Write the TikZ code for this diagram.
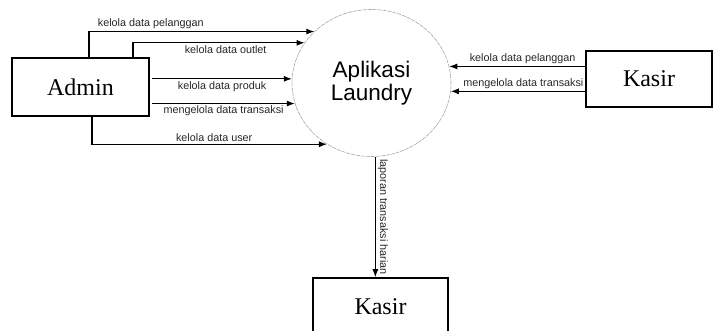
\documentclass[tikz,border=0pt]{standalone}
\usepackage{fontspec}
\setmainfont{Liberation Serif}
\setsansfont{Liberation Sans}
\usetikzlibrary{arrows.meta, shapes.geometric}

\begin{document}
\begin{tikzpicture}[x=1pt, y=-1pt,
		entity/.style={draw, line width=1.6pt, minimum width=137pt, minimum height=58pt, inner sep=0pt, font=\fontsize{24}{28}\selectfont},
		process/.style={ellipse, draw=gray!70, line width=0.6pt, dash pattern=on 4pt off 1pt, minimum width=159pt, minimum height=147pt, inner sep=0pt, align=center, font=\sffamily\fontsize{22.5}{23}\selectfont},
		flow/.style={line width=1.1pt, -{Latex[length=8pt, width=6pt]}},
		lbl/.style={font=\sffamily\fontsize{10.8}{12}\selectfont, inner sep=2pt, text=black!85}]

		\clip (0,0) rectangle (713,331);

		% entities and process
		\node[entity] (admin) at (80.5,87) {Admin};
		\node[entity, minimum width=126pt, minimum height=56pt] (kasirA) at (649,79) {Kasir};
		\node[entity, minimum width=135pt] (kasirB) at (380.5,307) {Kasir};
		\node[process] (app) at (371.5,83) {Aplikasi\\Laundry};

		% admin flows
		\draw[flow] ([xshift=8.5pt]admin.north) |- (app.138) node[lbl, above, pos=0.637] {kelola data pelanggan};
		\draw[flow] ([xshift=52.5pt]admin.north) |- (app.149) node[lbl, below, pos=0.77] {kelola data outlet};
		\draw[flow] ([xshift=2.5pt]admin.east |- app.177) -- (app.177) node[lbl, below, midway] {kelola data produk};
		\draw[flow] ([xshift=2.5pt]admin.east |- app.195) -- (app.195) node[lbl, below, midway] {mengelola data transaksi};
		\draw[flow] ([xshift=11.5pt]admin.south) |- (app.234) node[lbl, above, pos=0.76] {kelola data user};

		% kasir flows
		\draw[flow] (kasirA.west |- app.12) -- (app.12) node[lbl, above, pos=0.46] {kelola data pelanggan};
		\draw[flow] (kasirA.west |- app.-6) -- (app.-6) node[lbl, above, pos=0.46] {mengelola data transaksi};
		\draw[flow] (app.-87) -- (app.-87 |- kasirB.north) node[lbl, midway, anchor=south, rotate=-90] {laporan transaksi harian};

	\end{tikzpicture}
\end{document}
